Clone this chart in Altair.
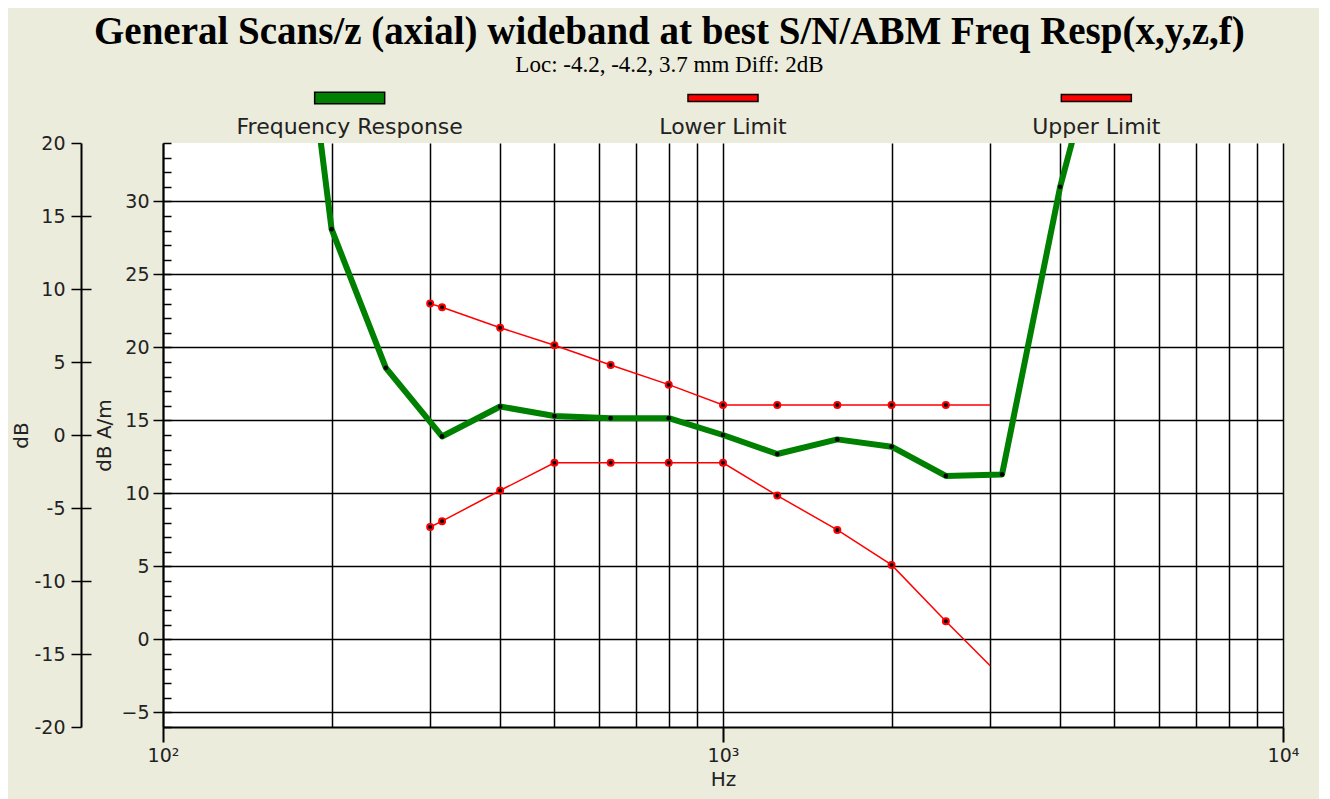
import altair as alt
import pandas as pd

# ---------------- data ----------------
freq_resp_hz = [160, 200, 250, 315, 400, 500, 630, 800, 1000, 1250, 1600, 2000, 2500, 3150, 4000, 5000]
freq_resp_db = [58.0, 28.1, 18.6, 13.9, 15.95, 15.3, 15.15, 15.15, 14.0, 12.7, 13.7, 13.2, 11.2, 11.3, 31.0, 45.0]

lower_hz = [300, 315, 400, 500, 630, 800, 1000, 1250, 1600, 2000, 2500, 3000]
lower_db = [7.7, 8.1, 10.2, 12.1, 12.1, 12.1, 12.1, 9.85, 7.5, 5.1, 1.25, -1.8]

upper_hz = [300, 315, 400, 500, 630, 800, 1000, 1250, 1600, 2000, 2500, 3000]
upper_db = [23.0, 22.75, 21.35, 20.15, 18.8, 17.45, 16.05, 16.05, 16.05, 16.05, 16.05, 16.05]

series_names = ["Frequency Response", "Lower Limit", "Upper Limit"]
series_colors = ["#008000", "#ff0000", "#ff0000"]

x_domain = [100, 10000]
x_grid_values = [100, 200, 300, 400, 500, 600, 700, 800, 900,
                 1000, 2000, 3000, 4000, 5000, 6000, 7000, 8000, 9000, 10000]
x_label_values = [100, 1000, 10000]
x_label_texts = ["10²", "10³", "10⁴"]

y_domain = [-6, 34]                       # dB A/m (inner axis)
y_inner_major = [-5, 0, 5, 10, 15, 20, 25, 30]
y_inner_minor = list(range(-6, 35))
outer_labels = [-20, -15, -10, -5, 0, 5, 10, 15, 20]   # dB (outer axis)
outer_shift = 14                                        # dB A/m = dB + 14

# ---------------- frames ----------------
fr = pd.DataFrame({"f": freq_resp_hz, "v": freq_resp_db})
lo = pd.DataFrame({"f": lower_hz, "v": lower_db})
up = pd.DataFrame({"f": upper_hz, "v": upper_db})
lo_dots = lo.iloc[:-1]
up_dots = up.iloc[:-1]

xs = alt.Scale(type="log", domain=x_domain, nice=False)
ys = alt.Scale(domain=y_domain, nice=False, zero=False)

FONT = "DejaVu Sans"
TXT = "#222222"

def xenc(axis=None):
    return alt.X("f:Q", scale=xs, axis=axis)

def yenc(axis=None):
    return alt.Y("v:Q", scale=ys, axis=axis)

# axis-only layers
grid_layer = alt.Chart(fr).mark_point(opacity=0, clip=True).encode(
    x=xenc(alt.Axis(orient="bottom", values=x_grid_values, grid=True, gridColor="black",
                    gridWidth=1.5, gridOpacity=1, ticks=False, labels=False, title=None,
                    domain=True, domainColor="black", domainWidth=2)),
    y=yenc(alt.Axis(orient="left", values=y_inner_major, grid=True, gridColor="black",
                    gridWidth=1.5, gridOpacity=1, tickSize=10, tickColor="black", tickWidth=1.5,
                    labelPadding=4, labelFont=FONT, labelFontSize=19, labelColor=TXT,
                    title="dB A/m", titleFont=FONT, titleFontSize=20, titleFontWeight="normal",
                    titleColor=TXT, titlePadding=6, domain=True, domainColor="black",
                    domainWidth=2)),
)

xlabel_expr = " : ".join(
    f"datum.value == {v} ? '{t}'" for v, t in zip(x_label_values[:-1], x_label_texts[:-1])
) + f" : '{x_label_texts[-1]}'"

xlabel_layer = alt.Chart(fr).mark_point(opacity=0, clip=True).encode(
    x=xenc(alt.Axis(orient="bottom", values=x_label_values, grid=False, tickSize=15,
                    tickColor="black", tickWidth=2, labels=True, labelExpr=xlabel_expr,
                    labelFlush=False, labelFont=FONT, labelFontSize=19, labelColor=TXT,
                    labelPadding=4, domain=False, title="Hz", titleFont=FONT,
                    titleFontSize=20, titleFontWeight="normal", titleColor=TXT,
                    titlePadding=4)),
    y=yenc(alt.Axis(orient="left", offset=-8, values=y_inner_minor, grid=False, tickSize=8,
                    tickColor="black", tickWidth=1.5, labels=False, domain=False,
                    title=None)),
)

outer_values = [v + outer_shift for v in outer_labels]
outer_layer = alt.Chart(fr).mark_point(opacity=0, clip=True).encode(
    x=xenc(),
    y=yenc(alt.Axis(orient="left", offset=82, values=outer_values,
                    labelExpr=f"datum.value - {outer_shift}", grid=False, tickSize=10,
                    tickColor="black", tickWidth=1.5, labelPadding=6, labelFont=FONT,
                    labelFontSize=19, labelColor=TXT, domain=True, domainColor="black",
                    domainWidth=2, title="dB", titleFont=FONT, titleFontSize=20,
                    titleFontWeight="normal", titleColor=TXT, titlePadding=2)),
)
outer_ticks_layer = alt.Chart(fr).mark_point(opacity=0, clip=True).encode(
    x=xenc(),
    y=yenc(alt.Axis(orient="left", offset=72, values=outer_values[1:-1], grid=False,
                    tickSize=10, tickColor="black", tickWidth=1.5, labels=False,
                    domain=False, title=None)),
)

# data layers
lower_line = alt.Chart(lo).mark_line(color="#ff0000", strokeWidth=1.5, clip=True).encode(
    x=xenc(), y=yenc())
upper_line = alt.Chart(up).mark_line(color="#ff0000", strokeWidth=1.5, clip=True).encode(
    x=xenc(), y=yenc())
lower_pts = alt.Chart(lo_dots).mark_point(filled=True, fill="black", stroke="#ff0000",
                                          strokeWidth=2, size=36, opacity=1, clip=True).encode(
    x=xenc(), y=yenc())
upper_pts = alt.Chart(up_dots).mark_point(filled=True, fill="black", stroke="#ff0000",
                                          strokeWidth=2, size=36, opacity=1, clip=True).encode(
    x=xenc(), y=yenc())
green_line = alt.Chart(fr).mark_line(color="#008000", strokeWidth=6, clip=True,
                                     strokeJoin="round").encode(x=xenc(), y=yenc())
green_pts = alt.Chart(fr).mark_point(filled=True, color="black", size=22, opacity=1,
                                     clip=True).encode(x=xenc(), y=yenc())

main = alt.layer(
    grid_layer, xlabel_layer, outer_layer, outer_ticks_layer,
    lower_line, upper_line, green_line, lower_pts, upper_pts, green_pts,
).resolve_axis(x="independent", y="independent").properties(
    width=1120, height=584,
    view=alt.ViewBackground(fill="white", stroke="transparent"),
)

# legend panel (symbols above labels)
thick_path = "M-1,-0.165H1V0.165H-1Z"
thin_path = "M-1,-0.1H1V0.1H-1Z"
legend_df = pd.DataFrame({"series": series_names})
lx = alt.X("series:N", scale=alt.Scale(type="point", domain=series_names, padding=0.5),
           axis=None)
sym = alt.Chart(legend_df).mark_point(filled=True, stroke="black", strokeWidth=1.5,
                                      size=4900, opacity=1).encode(
    x=lx,
    y=alt.value(7),
    color=alt.Color("series:N", scale=alt.Scale(domain=series_names, range=series_colors),
                    legend=None),
    shape=alt.Shape("series:N", scale=alt.Scale(domain=series_names,
                                                range=[thick_path, thin_path, thin_path]),
                    legend=None),
)
lab = alt.Chart(legend_df).mark_text(font=FONT, fontSize=22, color=TXT,
                                     baseline="middle").encode(
    x=lx, y=alt.value(36), text="series:N")
legend = alt.layer(sym, lab).properties(
    width=1120, height=52,
    view=alt.ViewBackground(fill="transparent", stroke="transparent"),
)

chart = alt.vconcat(legend, main, spacing=0, bounds="flush").properties(
    title=alt.TitleParams(
        text="General Scans/z (axial) wideband at best S/N/ABM Freq Resp(x,y,z,f)",
        subtitle="Loc: -4.2, -4.2, 3.7 mm Diff: 2dB",
        font="Liberation Serif", fontSize=39, fontWeight="bold", color="black",
        subtitleFont="Liberation Serif", subtitleFontSize=23, subtitleColor="black",
        subtitlePadding=2, anchor="middle", offset=12, dx=14),
    background="#ECECDC",
    padding={"left": 3, "top": 5, "right": 20, "bottom": 40},
).configure_view(strokeWidth=0)

chart.save("out.html", embed_options={"renderer": "svg", "actions": False})
